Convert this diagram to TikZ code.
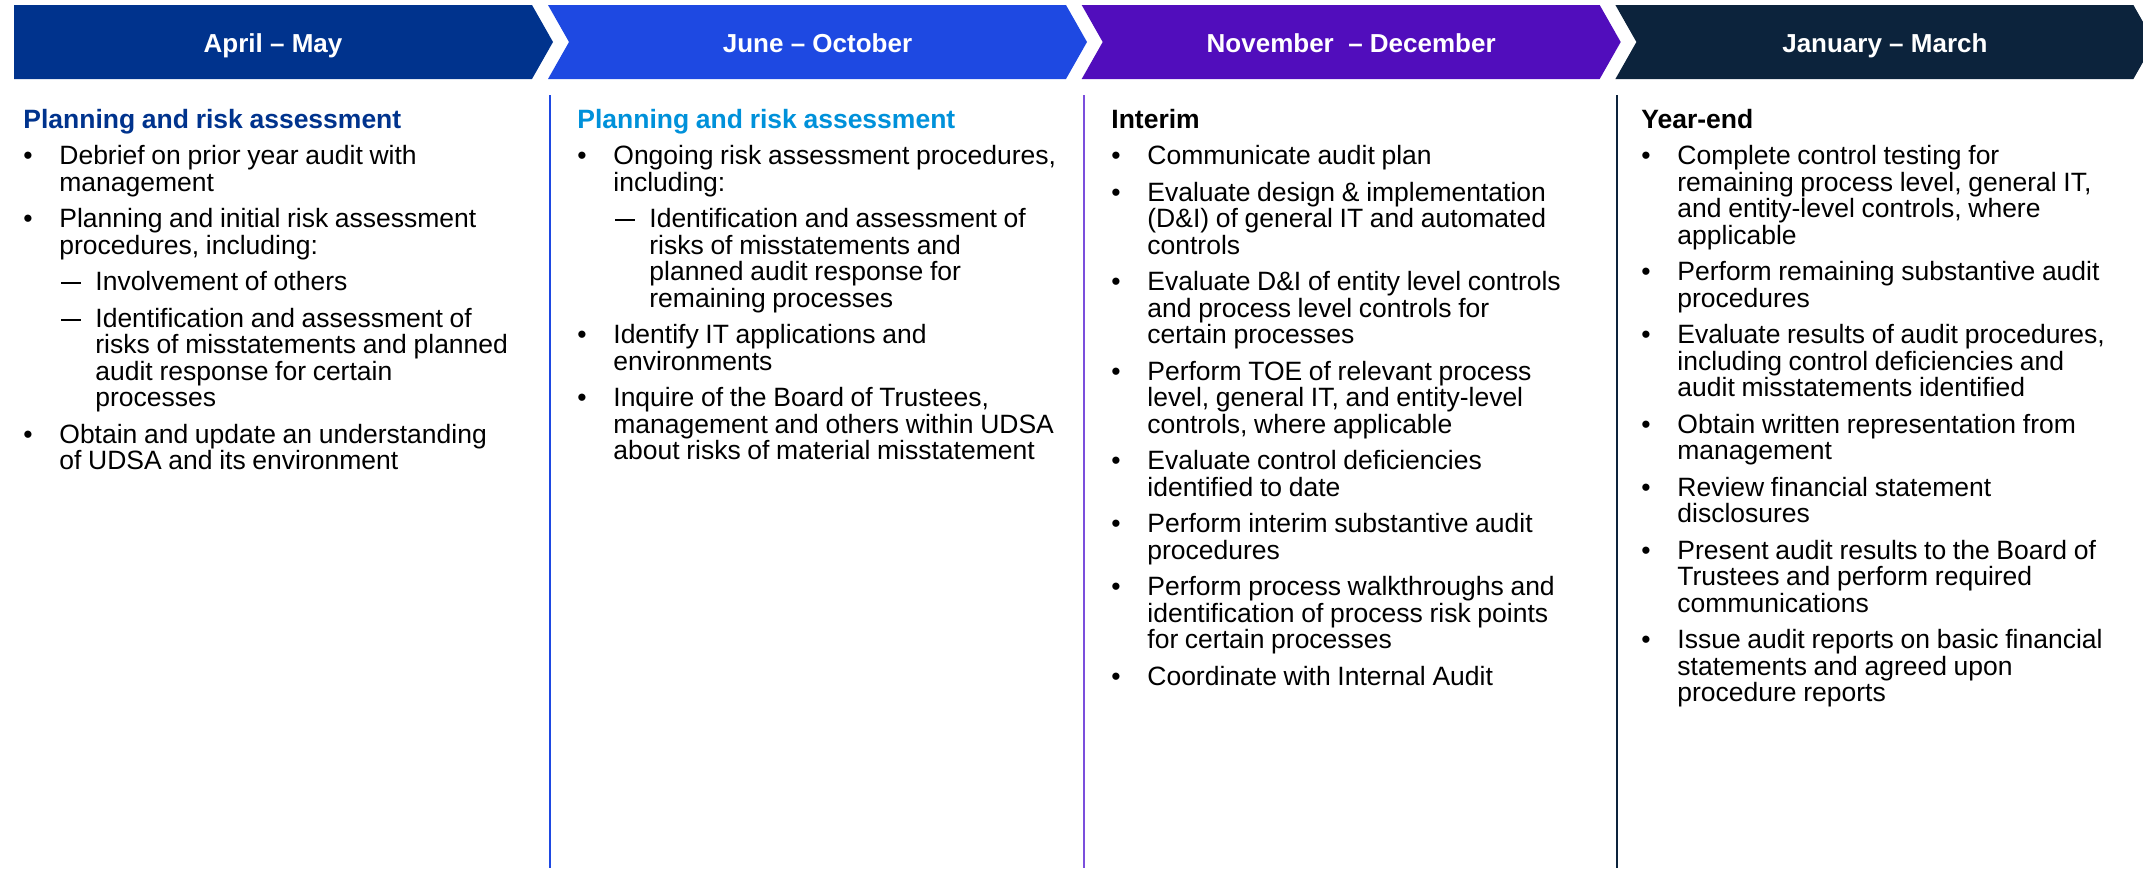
\documentclass[tikz,border=0pt]{standalone}
\usepackage{fontspec}
\setmainfont{Liberation Sans}
\usetikzlibrary{shapes.symbols,positioning}

\definecolor{aprblue}{HTML}{00338D}
\definecolor{junblue}{HTML}{1E49E2}
\definecolor{novpurple}{HTML}{510DBC}
\definecolor{jannavy}{HTML}{0C233C}
\definecolor{skyblue}{HTML}{0091DA}
\definecolor{seppurple}{HTML}{7B4FDC}

\newcommand{\phasehead}[2]{{\color{#1}\bfseries #2}}
\newcommand{\taskitem}[1]{\par\vspace{5pt}\hangindent=18pt\hangafter=1\noindent\makebox[18pt][l]{\textbullet}#1}
\newcommand{\taskdetail}[1]{\par\vspace{5pt}\hangindent=36pt\hangafter=1\noindent\hspace*{18pt}\makebox[18pt][l]{\hspace{1pt}\rule[3.2pt]{9.8pt}{0.9pt}}#1}

\begin{document}
\begin{tikzpicture}[x=0.5pt,y=-0.5pt,node distance=266.85pt,on grid,
   head/.style={signal,signal to=east,signal pointer angle=120.8,
     minimum width=269.5pt,minimum height=37pt,inner sep=0pt,outer sep=0pt,
     text=white,font=\fontsize{13pt}{15pt}\selectfont\bfseries,
     text height=10pt,text depth=0pt},
   coltext/.style={anchor=base west,inner sep=0pt,text width=252.5pt,align=left,
     execute at begin node={\fontsize{13.25pt}{13.25pt}\selectfont\lineskiplimit=-100pt}},
   sepline/.style={line width=0.75pt}]
   \useasboundingbox (0,0) rectangle (2143,868);
   % phase banners
   \node [head,fill=aprblue] (apr) at (273,42) {April – May};
   \node [head,fill=junblue,signal from=west] (jun) [right=272.25pt of apr] {June – October};
   \node [head,fill=novpurple,signal from=west] (nov) [right= of jun] {November\ \ – December};
   \node [head,fill=jannavy,signal from=west] (jan) [right= of nov] {January – March};
   % column rules
   \draw [sepline,draw=junblue] (550,95) -- (550,868);
   \draw [sepline,draw=seppurple] (1084,95) -- (1084,868);
   \draw [sepline,draw=jannavy] (1617,95) -- (1617,868);
   % task lists
   \node [coltext] (aprtasks) at (23,128) {\phasehead{aprblue}{Planning and risk assessment}
     \taskitem{Debrief on prior year audit with\newline management}
     \taskitem{Planning and initial risk assessment\newline procedures, including:}
     \taskdetail{Involvement of others}
     \taskdetail{Identification and assessment of\newline risks of misstatements and planned\newline audit response for certain\newline processes}
     \taskitem{Obtain and update an understanding\newline of UDSA and its environment}\par};
   \node [coltext] (juntasks) at (577,128) {\phasehead{skyblue}{Planning and risk assessment}
     \taskitem{Ongoing risk assessment procedures,\newline including:}
     \taskdetail{Identification and assessment of\newline risks of misstatements and\newline planned audit response for\newline remaining processes}
     \taskitem{Identify IT applications and\newline environments}
     \taskitem{Inquire of the Board of Trustees,\newline management and others within UDSA\newline about risks of material misstatement}\par};
   \node [coltext] (novtasks) at (1111,128) {\phasehead{black}{Interim}
     \taskitem{Communicate audit plan}
     \taskitem{Evaluate design \& implementation\newline (D\&I) of general IT and automated\newline controls}
     \taskitem{Evaluate D\&I of entity level controls\newline and process level controls for\newline certain processes}
     \taskitem{Perform TOE of relevant process\newline level, general IT, and entity-level\newline controls, where applicable}
     \taskitem{Evaluate control deficiencies\newline identified to date}
     \taskitem{Perform interim substantive audit\newline procedures}
     \taskitem{Perform process walkthroughs and\newline identification of process risk points\newline for certain processes}
     \taskitem{Coordinate with Internal Audit}\par};
   \node [coltext] (jantasks) at (1641,128) {\phasehead{black}{Year-end}
     \taskitem{Complete control testing for\newline remaining process level, general IT,\newline and entity-level controls, where\newline applicable}
     \taskitem{Perform remaining substantive audit\newline procedures}
     \taskitem{Evaluate results of audit procedures,\newline including control deficiencies and\newline audit misstatements identified}
     \taskitem{Obtain written representation from\newline management}
     \taskitem{Review financial statement\newline disclosures}
     \taskitem{Present audit results to the Board of\newline Trustees and perform required\newline communications}
     \taskitem{Issue audit reports on basic financial\newline statements and agreed upon\newline procedure reports}\par};
\end{tikzpicture}
\end{document}
